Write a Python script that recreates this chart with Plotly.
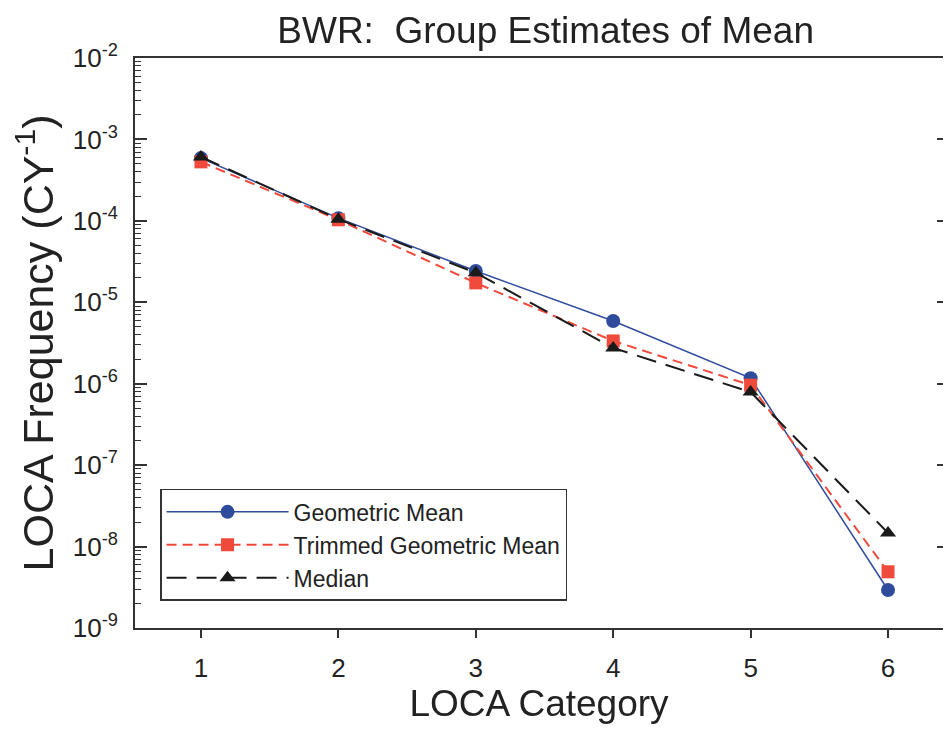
import plotly.graph_objects as go

categories = [1, 2, 3, 4, 5, 6]
geometric_mean = [5.9e-4, 1.08e-4, 2.42e-5, 5.9e-6, 1.17e-6, 2.93e-9]
trimmed_geometric_mean = [5.3e-4, 1.03e-4, 1.73e-5, 3.35e-6, 9.6e-7, 4.9e-9]
median = [6.1e-4, 1.05e-4, 2.3e-5, 2.75e-6, 7.9e-7, 1.47e-8]

y_tickvals = [1e-9, 1e-8, 1e-7, 1e-6, 1e-5, 1e-4, 1e-3, 1e-2]
y_ticktext = ["10<sup>-9</sup>", "10<sup>-8</sup>", "10<sup>-7</sup>", "10<sup>-6</sup>",
              "10<sup>-5</sup>", "10<sup>-4</sup>", "10<sup>-3</sup>", "10<sup>-2</sup>"]

FONT = "Liberation Sans, Arial, sans-serif"
TXT = "#222222"

fig = go.Figure()
fig.add_trace(go.Scatter(
    x=categories, y=geometric_mean, name="Geometric Mean", mode="lines+markers",
    line=dict(color="#2f4c9c", width=1.5),
    marker=dict(symbol="circle", size=14, color="#2f4c9c"),
))
fig.add_trace(go.Scatter(
    x=categories, y=trimmed_geometric_mean, name="Trimmed Geometric Mean", mode="lines+markers",
    line=dict(color="#ef4a3c", width=2, dash="10px,6px"),
    marker=dict(symbol="square", size=13, color="#ef4a3c"),
))
fig.add_trace(go.Scatter(
    x=categories, y=median, name="Median", mode="lines+markers",
    line=dict(color="#1a1a1a", width=2, dash="20px,10px"),
    marker=dict(symbol="triangle-up", size=14, color="#1a1a1a"),
))
# invisible helper trace so the right-hand (major-tick only) axis is drawn
fig.add_trace(go.Scatter(
    x=categories, y=median, yaxis="y2", mode="markers", opacity=0,
    showlegend=False, hoverinfo="skip",
))

fig.update_layout(
    width=935, height=733, autosize=False,
    margin=dict(l=127, r=0, t=50, b=113),
    paper_bgcolor="white", plot_bgcolor="white",
    font=dict(family=FONT, color=TXT),
    title=dict(text="BWR:  Group Estimates of Mean", x=0.575, xanchor="center",
               y=0.970, yanchor="middle", font=dict(size=37, color=TXT)),
    showlegend=True,
    legend=dict(x=0.031, y=0.244, xanchor="left", yanchor="top",
                bordercolor="#333333", borderwidth=1.5, bgcolor="white",
                font=dict(size=23, color=TXT), itemwidth=122,
                tracegroupgap=0),
    xaxis=dict(
        range=[0.52, 6.40], tickvals=categories, ticktext=[str(c) for c in categories],
        showgrid=False, zeroline=False,
        showline=True, linecolor="#333333", linewidth=2, mirror=True,
        ticks="outside", ticklen=8, tickcolor="#333333", tickwidth=1.5,
        tickfont=dict(size=26, color=TXT), ticklabelstandoff=8,
        title=dict(text="LOCA Category", font=dict(size=37, color=TXT), standoff=8),
    ),
    yaxis=dict(
        type="log", range=[-9, -2], tickvals=y_tickvals, ticktext=y_ticktext,
        showgrid=False, zeroline=False,
        showline=True, linecolor="#333333", linewidth=2, mirror=False,
        ticks="inside", ticklen=12, tickcolor="#333333", tickwidth=1.5,
        minor=dict(ticks="inside", ticklen=6, tickcolor="#333333", tickwidth=1,
                   dtick="D1", showgrid=False),
        tickfont=dict(size=26, color=TXT), ticklabelstandoff=10,
        title=dict(text="LOCA Frequency (CY<sup>-1</sup>)", font=dict(size=43, color=TXT),
                   standoff=10),
    ),
    yaxis2=dict(
        type="log", range=[-9, -2], tickvals=y_tickvals, overlaying="y", side="right",
        anchor="x", showticklabels=False, showgrid=False, zeroline=False, showline=False,
        ticks="inside", ticklen=6, tickcolor="#333333", tickwidth=1.5,
    ),
)

fig.write_html("out.html")
